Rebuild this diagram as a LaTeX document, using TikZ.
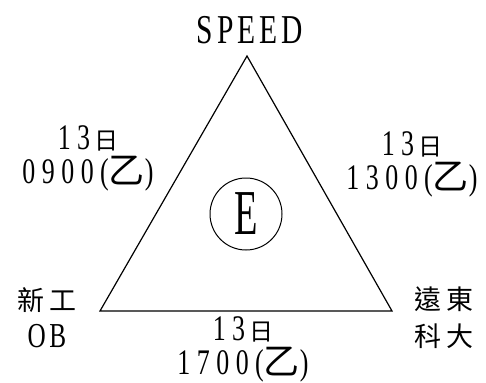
\documentclass[tikz,border=0pt]{standalone}
\usepackage{fontspec}
\setmainfont{Liberation Serif}
\newfontfamily\digfont[FakeStretch=0.72,LetterSpace=18]{Liberation Serif}
\newfontfamily\speedfont[FakeStretch=0.72,LetterSpace=10]{Liberation Serif}
\newfontfamily\efont[FakeStretch=0.6]{Liberation Serif}
\newfontfamily\cjk[LetterSpace=20]{Noto Sans CJK TC}
\newcommand\ri{{\cjk\fontsize{24}{24}\selectfont\,日}}
\begin{document}
\begin{tikzpicture}[x=1pt,y=-1pt,line width=1.2pt,
  lbl/.style={inner sep=0pt,align=center,font=\digfont\fontsize{36}{34}\selectfont},
  place/.style={inner sep=0pt,align=center,font=\cjk\fontsize{27}{37}\selectfont}]
  \useasboundingbox (0,0) rectangle (486,382);
  % triangle
  \coordinate (top) at (247,56);
  \coordinate (bl) at (100,311);
  \coordinate (br) at (392,311);
  \draw (top) -- (br) -- (bl) -- cycle;
  \node[inner sep=0pt,font=\speedfont\fontsize{41}{41}\selectfont] (speed) at (250,30) {SPEED};
  \node[draw,circle,line width=1pt,minimum size=72pt,inner sep=0pt,
    font=\efont\fontsize{64}{64}\selectfont] (e) at (246,214) {E};
  % times
  \node[lbl] (tleft) at (88,158) {13\ri\\0900({\cjk 乙})};
  \node[lbl] (tright) at (412,164) {13\ri\\1300({\cjk 乙})};
  \node[lbl] (tbottom) at (243,349) {13\ri\\1700({\cjk 乙})};
  % places
  \node[place] (xingong) at (47,318) {新工\\{\speedfont\fontsize{35}{35}\selectfont OB}};
  \node[place] (yuandong) at (444,318) {遠東\\科大};
\end{tikzpicture}
\end{document}
